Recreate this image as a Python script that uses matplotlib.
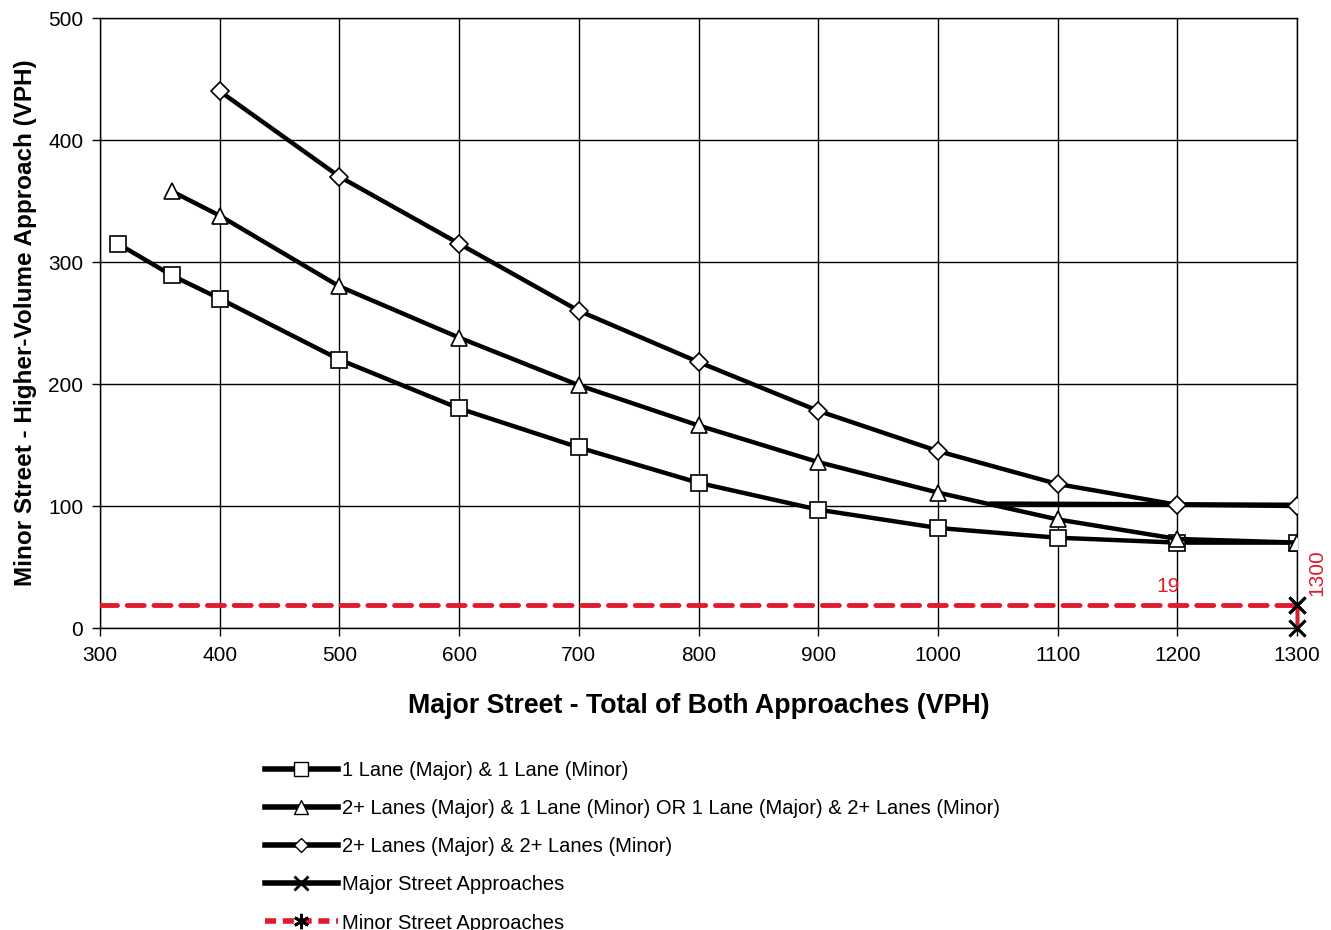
import matplotlib
matplotlib.use("Agg")
import matplotlib.pyplot as plt
from matplotlib.lines import Line2D

plt.rcParams['font.family'] = ['Liberation Sans', 'DejaVu Sans']

# ---- data ----
x_1x1 = [315, 360, 400, 500, 600, 700, 800, 900, 1000, 1100, 1200, 1300]
y_1x1 = [315, 289, 270, 220, 180, 148, 119, 97, 82, 74, 70, 70]

x_2x1 = [360, 400, 500, 600, 700, 800, 900, 1000, 1100, 1200, 1300]
y_2x1 = [358, 338, 280, 238, 199, 166, 136, 111, 89, 73, 70]

x_2x2 = [400, 500, 600, 700, 800, 900, 1000, 1100, 1200, 1300]
y_2x2 = [440, 370, 315, 260, 218, 178, 145, 118, 101, 100]

x_flat = [1045, 1300]
y_flat = [102, 101]

x_major = [1300, 1300]
y_major = [0, 19]

x_minor = [300, 1300]
y_minor = [19, 19]

labels = ["1 Lane (Major) & 1 Lane (Minor)",
          "2+ Lanes (Major) & 1 Lane (Minor) OR 1 Lane (Major) & 2+ Lanes (Minor)",
          "2+ Lanes (Major) & 2+ Lanes (Minor)",
          "Major Street Approaches",
          "Minor Street Approaches"]
x_ticks = [300, 400, 500, 600, 700, 800, 900, 1000, 1100, 1200, 1300]
y_ticks = [0, 100, 200, 300, 400, 500]

RED = '#e01b2e'

fig = plt.figure(figsize=(13.31, 9.30), dpi=100)
ax = fig.add_axes([100/1331, 1-628/930, 1197/1331, 610/930])

ax.set_xlim(300, 1300)
ax.set_ylim(0, 500)
ax.set_xticks(x_ticks)
ax.set_yticks(y_ticks)
ax.grid(True, color='black', linewidth=1.0)
ax.set_axisbelow(True)
for s in ax.spines.values():
    s.set_color('black')
    s.set_linewidth(1.0)
ax.tick_params(axis='both', direction='out', length=6, width=1, labelsize=15, colors='black')
ax.tick_params(axis='x', pad=7)
ax.tick_params(axis='y', pad=6)

common = dict(color='black', linewidth=3.2, markerfacecolor='white',
              markeredgecolor='black', markeredgewidth=1.2, zorder=3)
l1, = ax.plot(x_1x1, y_1x1, marker='s', markersize=12, **common)
l2, = ax.plot(x_2x1, y_2x1, marker='^', markersize=12, **common)
ax.plot(x_flat, y_flat, color='black', linewidth=3.2, zorder=2.9)
l3, = ax.plot(x_2x2, y_2x2, marker='D', markersize=9, **common)

# minor street approaches
l5, = ax.plot(x_minor, y_minor, color=RED, linewidth=3.5, dashes=(3.5, 2),
              zorder=3, solid_capstyle='round', dash_capstyle='round')
ax.plot([x_minor[-1]], [y_minor[-1]], marker='x', color='black', markersize=12,
        markeredgewidth=2, zorder=6, clip_on=False)
# major street approaches
l4, = ax.plot(x_major, y_major, color='black', linewidth=2.5, marker='x',
              markersize=12, markeredgewidth=2, zorder=5, clip_on=False)
ax.plot(x_major, y_major, color=RED, linewidth=2.5, zorder=5.5, clip_on=False)
ax.plot(x_major, y_major, linestyle='none', marker='x', color='black', markersize=12,
        markeredgewidth=2, zorder=6, clip_on=False)

ax.text(1192, 26, "19", color=RED, fontsize=15, ha='center', va='bottom')
ax.text(1309, 45, "1300", color=RED, fontsize=15, rotation=90, ha='left', va='center')

ax.set_xlabel("Major Street - Total of Both Approaches (VPH)", fontsize=19.3,
              fontweight='bold', labelpad=20)
ax.set_ylabel("Minor Street - Higher-Volume Approach (VPH)", fontsize=17.5,
              fontweight='bold', labelpad=8)

h1 = Line2D([], [], color='black', linewidth=4, marker='s', markersize=10,
            markerfacecolor='white', markeredgecolor='black')
h2 = Line2D([], [], color='black', linewidth=4, marker='^', markersize=10,
            markerfacecolor='white', markeredgecolor='black')
h3 = Line2D([], [], color='black', linewidth=4, marker='D', markersize=7.5,
            markerfacecolor='white', markeredgecolor='black')
h4 = Line2D([], [], color='black', linewidth=4, marker='x', markersize=10,
            markeredgewidth=2, markeredgecolor='black')
h5 = Line2D([], [], color=RED, linewidth=4, dashes=(2, 1.2), marker=(6, 2, 0),
            markersize=11, markeredgewidth=2, markeredgecolor='black')

fig.legend([h1, h2, h3, h4, h5], labels, loc='upper left',
           bbox_to_anchor=(265/1331, 1-761/930), frameon=False, fontsize=14.5,
           handlelength=3.6, handletextpad=0.2, labelspacing=0.95,
           borderaxespad=0, borderpad=0)

fig.savefig("out.png", dpi=100, facecolor='white')
